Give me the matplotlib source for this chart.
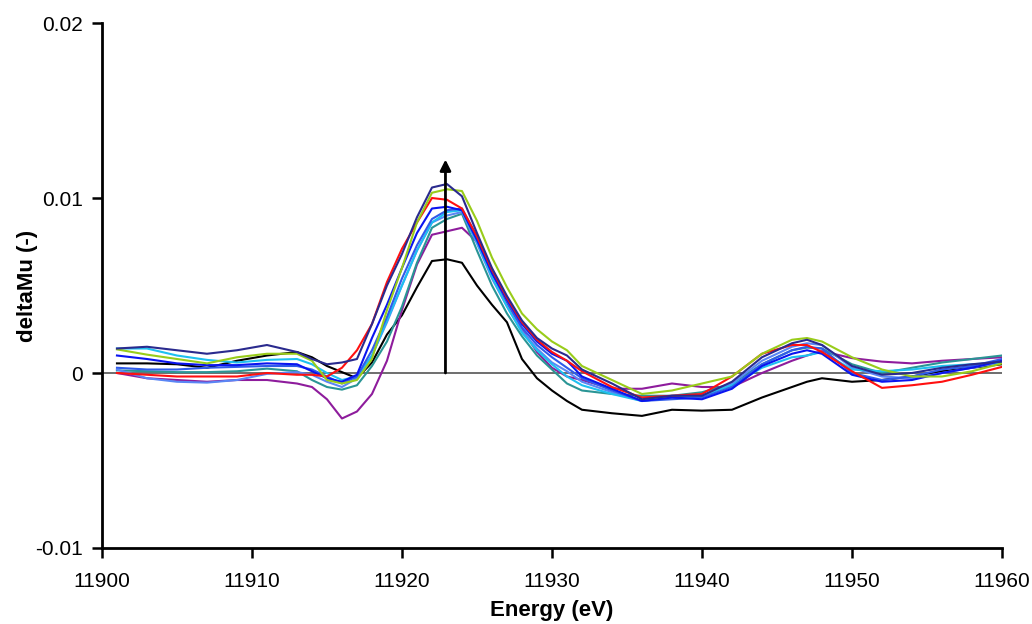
import numpy as np
import matplotlib
matplotlib.use('Agg')
import matplotlib.pyplot as plt
from matplotlib.ticker import FuncFormatter

plt.rcParams['font.family'] = ['Liberation Sans', 'DejaVu Sans']
plt.rcParams['axes.unicode_minus'] = False

# energy grid (eV)
energy = [11901, 11903, 11905, 11907, 11909, 11911, 11913, 11914, 11915, 11916,
          11917, 11918, 11919, 11920, 11921, 11922, 11923, 11924, 11925, 11926,
          11927, 11928, 11929, 11930, 11931, 11932, 11934, 11936, 11938, 11940,
          11942, 11944, 11946, 11947, 11948, 11950, 11952, 11954, 11956, 11958,
          11960]

# deltaMu values in units of 1e-3
black = [0.55, 0.55, 0.5, 0.3, 0.7, 1.0, 1.2, 0.9, 0.4, 0.05,
         -0.3, 0.6, 2.2, 3.3, 4.9, 6.4, 6.5, 6.3, 5.0, 3.9,
         2.9, 0.8, -0.3, -1.0, -1.6, -2.1, -2.3, -2.45, -2.1, -2.15,
         -2.1, -1.4, -0.8, -0.5, -0.3, -0.5, -0.4, -0.2, 0.1, 0.3,
         0.5]
purple = [0.0, -0.3, -0.4, -0.5, -0.4, -0.4, -0.6, -0.8, -1.5, -2.6,
          -2.2, -1.2, 0.7, 3.6, 6.2, 7.9, 8.1, 8.3, 7.5, 5.7,
          4.0, 2.5, 1.2, 0.3, -0.2, -0.4, -0.9, -0.9, -0.6, -0.8,
          -0.8, 0.0, 0.7, 1.0, 1.25, 0.85, 0.65, 0.55, 0.7, 0.8,
          0.9]
red = [0.0, -0.1, -0.2, -0.2, -0.2, 0.0, -0.1, -0.1, -0.2, 0.3,
       1.3, 2.8, 5.2, 7.1, 8.6, 10.0, 9.9, 9.4, 7.8, 5.9,
       4.3, 2.9, 1.9, 1.2, 0.7, 0.1, -0.8, -1.4, -1.3, -1.2,
       -0.2, 1.1, 1.6, 1.6, 1.2, 0.1, -0.85, -0.7, -0.5, -0.1,
       0.35]
yellowgreen = [1.35, 1.05, 0.8, 0.55, 0.9, 1.1, 1.1, 0.7, -0.4, -0.6,
               -0.4, 0.8, 3.6, 6.0, 8.6, 10.3, 10.5, 10.4, 8.7, 6.6,
               4.9, 3.4, 2.5, 1.8, 1.3, 0.4, -0.4, -1.2, -1.0, -0.6,
               -0.2, 1.1, 1.9, 2.0, 1.8, 0.9, 0.2, -0.2, -0.2, 0.1,
               0.55]
navy = [1.4, 1.5, 1.3, 1.1, 1.3, 1.6, 1.2, 0.8, 0.5, 0.6,
        0.8, 2.8, 5.0, 6.8, 8.9, 10.6, 10.8, 10.1, 8.0, 6.0,
        4.4, 3.0, 2.0, 1.4, 1.0, 0.2, -0.6, -1.5, -1.3, -1.3,
        -0.5, 0.9, 1.7, 1.9, 1.6, 0.4, -0.1, 0.0, 0.3, 0.5,
        0.65]
blue = [1.0, 0.8, 0.55, 0.45, 0.45, 0.55, 0.5, 0.1, -0.3, -0.5,
        -0.1, 2.0, 3.9, 6.0, 8.0, 9.4, 9.5, 9.3, 7.6, 5.7,
        4.2, 2.8, 1.8, 1.1, 0.7, -0.2, -0.9, -1.6, -1.4, -1.5,
        -0.9, 0.4, 1.1, 1.3, 1.1, -0.1, -0.5, -0.4, 0.0, 0.3,
        0.7]
royalblue = [0.3, 0.2, 0.2, 0.3, 0.35, 0.4, 0.4, 0.2, -0.2, -0.6,
             -0.2, 1.3, 3.2, 5.4, 7.3, 8.8, 9.3, 9.4, 7.8, 5.8,
             4.1, 2.6, 1.6, 0.9, 0.3, -0.3, -1.0, -1.6, -1.5, -1.4,
             -0.8, 0.5, 1.3, 1.5, 1.4, 0.0, -0.4, -0.2, 0.2, 0.4,
             0.8]
lightblue = [0.2, -0.3, -0.5, -0.55, -0.4, -0.05, 0.05, -0.1, -0.5, -0.8,
             -0.3, 1.0, 2.9, 5.0, 7.0, 8.6, 9.0, 9.2, 7.4, 5.4,
             3.8, 2.4, 1.4, 0.6, 0.1, -0.5, -1.1, -1.6, -1.4, -1.3,
             -0.6, 0.7, 1.5, 1.7, 1.6, 0.3, -0.2, -0.3, 0.0, 0.3,
             0.6]
cyan = [1.4, 1.4, 1.0, 0.75, 0.6, 0.75, 0.8, 0.5, 0.0, -0.4,
        -0.2, 1.0, 3.0, 5.0, 7.0, 8.6, 9.2, 9.3, 7.5, 5.5,
        3.8, 2.3, 1.3, 0.5, -0.2, -0.7, -1.2, -1.6, -1.3, -1.3,
        -0.7, 0.3, 0.9, 1.0, 1.2, 0.2, 0.1, 0.2, 0.4, 0.5,
        0.6]
teal = [0.15, 0.1, 0.05, 0.05, 0.1, 0.25, 0.1, -0.4, -0.8, -0.95,
        -0.7, 0.4, 1.8, 3.8, 6.3, 8.3, 8.8, 9.1, 7.0, 5.0,
        3.4, 2.1, 1.0, 0.2, -0.6, -1.0, -1.2, -1.3, -1.3, -1.1,
        -0.6, 0.5, 1.3, 1.45, 1.4, 0.5, 0.0, 0.3, 0.6, 0.8,
        1.0]

series = [
    (black, 'black'),
    (purple, '#8E1C9C'),
    (teal, '#2A9595'),
    (lightblue, '#5A86F5'),
    (cyan, '#1EC0F0'),
    (royalblue, '#2F5BEA'),
    (blue, '#0A14F0'),
    (red, '#FF1010'),
    (yellowgreen, '#99CC1A'),
    (navy, '#2A2A8E'),
]

arrow_x = 11922.9
arrow_top = 0.0122

fig = plt.figure(figsize=(10.32, 6.24), dpi=100)
ax = fig.add_axes([0.0988, 0.1218, 0.8721, 0.8413])

ax.axhline(0, color='#555555', lw=1.2, zorder=1)
for vals, col in series:
    ax.plot(energy, np.array(vals) * 1e-3, color=col, lw=1.5, zorder=2)

ax.annotate('', xy=(arrow_x, arrow_top), xytext=(arrow_x, 0),
            arrowprops=dict(arrowstyle='-|>', color='black', lw=2,
                            mutation_scale=16, shrinkA=0, shrinkB=0),
            zorder=5)

ax.set_xlim(11900, 11960)
ax.set_ylim(-0.01, 0.02)
ax.set_xticks(np.arange(11900, 11961, 10))
ax.set_yticks([-0.01, 0, 0.01, 0.02])
ax.yaxis.set_major_formatter(FuncFormatter(lambda v, p: '%g' % round(v, 4)))

for side in ['top', 'right']:
    ax.spines[side].set_visible(False)
for side in ['left', 'bottom']:
    ax.spines[side].set_linewidth(2)
ax.tick_params(direction='out', length=7, width=1.8, labelsize=15, pad=7)
ax.tick_params(axis='x', pad=10)

ax.set_xlabel('Energy (eV)', fontsize=16, fontweight='bold')
ax.set_ylabel('deltaMu (-)', fontsize=16, fontweight='bold')
ax.xaxis.set_label_coords(0.5, -0.1)
ax.yaxis.set_label_coords(-0.071, 0.5)

fig.savefig('out.png', dpi=100)
